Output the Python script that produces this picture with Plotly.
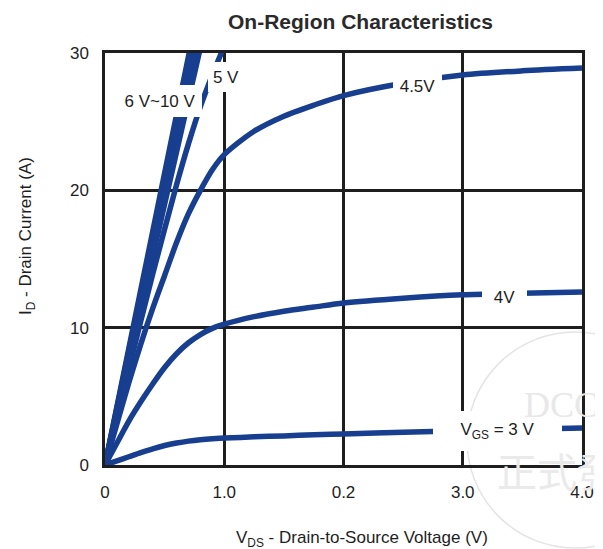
import plotly.graph_objects as go

# ---------------- data ----------------
x_tick_vals = [0, 1, 2, 3, 4]
x_tick_text = ["0", "1.0", "0.2", "3.0", "4.0"]
y_tick_vals = [0, 10, 20, 30]
y_tick_text = ["0", "10", "20", "30"]

# 6 V ~ 10 V family (nearly straight lines)
x_lin = [0, 0.2, 0.4, 0.6, 0.8]
i_10v = [0, 8.5, 17.0, 25.5, 34.0]
i_9v = [0, 8.3, 16.6, 24.9, 33.2]
i_8v = [0, 8.1, 16.2, 24.3, 32.4]
i_7v = [0, 7.9, 15.8, 23.7, 31.6]
i_6v = [0, 7.6, 15.2, 22.8, 30.4]

x_5v = [0, 0.2, 0.4, 0.6, 0.7, 0.8, 0.9, 1.0]
i_5v = [0, 7.0, 13.9, 20.4, 23.4, 26.1, 28.4, 30.5]

x_sat = [0, 0.1, 0.2, 0.3, 0.4, 0.5, 0.6, 0.7, 0.8, 0.9, 1.0, 1.25, 1.5, 1.75, 2.0, 2.5, 3.0, 3.5, 4.0]
i_45v = [0, 3.0, 6.0, 8.8, 11.4, 13.8, 16.2, 18.3, 20.0, 21.5, 22.6, 24.3, 25.4, 26.2, 26.9, 27.8, 28.4, 28.7, 28.9]
i_4v = [0, 1.6, 3.2, 4.6, 5.9, 7.1, 8.1, 8.9, 9.5, 9.95, 10.25, 10.8, 11.2, 11.5, 11.8, 12.15, 12.4, 12.5, 12.6]
i_3v = [0, 0.3, 0.6, 0.9, 1.18, 1.42, 1.6, 1.74, 1.84, 1.91, 1.96, 2.05, 2.12, 2.2, 2.26, 2.38, 2.49, 2.6, 2.7]

series = [
    (x_lin, i_10v), (x_lin, i_9v), (x_lin, i_8v), (x_lin, i_7v), (x_lin, i_6v),
    (x_5v, i_5v), (x_sat, i_45v), (x_sat, i_4v), (x_sat, i_3v),
]

LINE = "#183e8f"
INK = "#1e1e1e"
FONT = "Liberation Sans, Arial, sans-serif"

fig = go.Figure()
for xs, ys in series:
    fig.add_trace(go.Scatter(x=xs, y=ys, mode="lines",
                             line=dict(color=LINE, width=5.5, shape="spline", smoothing=0.8),
                             showlegend=False, hoverinfo="skip"))

# ---------------- geometry helpers (screen pixels of the reference) ----------------
L, R, T, B = 105, 582, 53, 465
W, H = 603, 549
OFF = 8  # page body margin offsets the figure


def dx(px):
    return (px - L) / (R - L) * 4.0


def dy(py):
    return (B - py) / (B - T) * 30.0


def px_(p):
    return (p - L) / (R - L)


def py_(p):
    return (B - p) / (B - T)


labels = [
    ("6 V~10 V", 160, 101, 84, 32),
    ("5 V", 226, 77, 36, 30),
    ("4.5V", 417, 86, 49, 28),
    ("4V", 504, 297, 45, 28),
    ("V<sub>GS</sub> = 3 V", 497, 431, 129, 40),
]
for txt, cx, cy, w, h in labels:
    fig.add_annotation(x=dx(cx), y=dy(cy), xref="x", yref="y", text=txt, showarrow=False,
                       bgcolor="white", width=w, height=h, borderpad=0, borderwidth=0,
                       xanchor="center", yanchor="middle",
                       font=dict(family=FONT, size=17, color=INK))

# title and axis titles
fig.add_annotation(x=px_(360), y=py_(21), xref="paper", yref="paper", showarrow=False,
                   text="<b>On-Region Characteristics</b>", xanchor="center", yanchor="middle",
                   font=dict(family=FONT, size=21, color="#2a2a2a"))
fig.add_annotation(x=px_(362), y=py_(539), xref="paper", yref="paper", showarrow=False,
                   text="V<sub>DS</sub> - Drain-to-Source Voltage (V)", xanchor="center", yanchor="middle",
                   font=dict(family=FONT, size=17, color=INK))
fig.add_annotation(x=px_(27), y=py_(236), xref="paper", yref="paper", showarrow=False, textangle=-90,
                   text="I<sub>D</sub> - Drain Current (A)", xanchor="center", yanchor="middle",
                   font=dict(family=FONT, size=17, color=INK))

# faint watermark
fig.add_shape(type="circle", xref="paper", yref="paper", layer="below",
              x0=px_(467), x1=px_(683), y0=py_(548), y1=py_(332),
              line=dict(color="#e4e4e4", width=1.5))
fig.add_annotation(x=px_(522), y=py_(405), xref="paper", yref="paper", showarrow=False,
                   text="DCC", xanchor="left", yanchor="middle",
                   font=dict(family="Liberation Serif, serif", size=36, color="#e8e8e8"))
fig.add_annotation(x=px_(495), y=py_(470), xref="paper", yref="paper", showarrow=False,
                   text="正式發", xanchor="left", yanchor="middle",
                   font=dict(family="Noto Sans CJK TC", size=40, color="#eaeaea"))

fig.update_layout(
    width=W, height=H,
    margin=dict(l=L - OFF, r=W - (R - OFF), t=T - OFF, b=H - (B - OFF)),
    paper_bgcolor="white", plot_bgcolor="rgba(0,0,0,0)",
    font=dict(family=FONT, size=17, color=INK),
    showlegend=False,
)
fig.update_xaxes(range=[0, 4], tickvals=x_tick_vals, ticktext=x_tick_text,
                 showgrid=True, gridcolor=INK, gridwidth=2.5, zeroline=False,
                 showline=True, linecolor=INK, linewidth=2.5, mirror=True,
                 ticks="", ticklabelstandoff=10, fixedrange=True)
fig.update_yaxes(range=[0, 30], tickvals=y_tick_vals, ticktext=y_tick_text,
                 showgrid=True, gridcolor=INK, gridwidth=2.5, zeroline=False,
                 showline=True, linecolor=INK, linewidth=2.5, mirror=True,
                 ticks="", ticklabelstandoff=10, fixedrange=True)

fig.write_html("out.html")
